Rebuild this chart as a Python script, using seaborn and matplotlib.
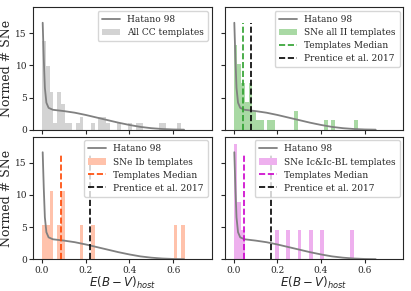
import numpy as np
import pandas as pd
import seaborn as sns
import matplotlib
matplotlib.use('Agg')
import matplotlib.pyplot as plt

# Hatano 98 model curve
hatano_ebv = [0.003, 0.008, 0.013, 0.02, 0.03, 0.05, 0.1, 0.15, 0.2, 0.25, 0.3,
              0.35, 0.4, 0.45, 0.5, 0.55, 0.6, 0.65]
hatano_pdf = [16.6, 11.0, 6.5, 4.2, 3.4, 3.1, 2.9, 2.65, 2.3, 1.9, 1.5,
              1.1, 0.75, 0.45, 0.25, 0.12, 0.05, 0.02]

# common histogram bins
bin_width = 0.0172
n_bins = 40
bin_centers = (np.arange(n_bins) + 0.5) * bin_width

# template counts per bin
counts_cc = [14, 10, 6, 1, 6, 4, 1, 1, 0, 1, 2, 0, 0, 1, 0, 2, 2, 1, 0, 0,
             1, 0, 0, 1, 0, 1, 1, 0, 0, 0, 0, 1, 1, 0, 0, 0, 1, 0, 0, 0]
counts_ii = [9, 7, 5, 3, 5, 2, 1, 1, 0, 1, 1, 0, 0, 0, 0, 0, 2, 0, 0, 0,
             0, 0, 0, 0, 1, 0, 1, 0, 0, 0, 0, 0, 1, 0, 0, 0, 0, 0, 0, 0]
counts_ib = [1, 1, 2, 0, 1, 2, 0, 0, 0, 0, 1, 0, 0, 1, 0, 0, 0, 0, 0, 0,
             0, 0, 0, 0, 0, 0, 0, 0, 0, 0, 0, 0, 0, 0, 0, 1, 0, 1, 0, 0]
counts_ic = [4, 2, 1, 0, 0, 0, 0, 0, 0, 0, 0, 1, 0, 0, 1, 0, 0, 1, 0, 0,
             1, 0, 0, 1, 0, 0, 0, 0, 0, 0, 0, 1, 0, 0, 0, 0, 0, 0, 0, 0]

# medians and Prentice et al. 2017 values
median_ii, prentice_ii = 0.044, 0.079
median_ib, prentice_ib = 0.087, 0.221
median_ic, prentice_ic = 0.046, 0.171
vline_top = 16.5

panels = [
    (counts_cc, 'All CC templates', '#d3d3d3', None, None, None),
    (counts_ii, 'SNe all II templates', '#a9d9a4', '#2ca02c', median_ii, prentice_ii),
    (counts_ib, 'SNe Ib templates', '#ffc2ab', '#ff4500', median_ib, prentice_ib),
    (counts_ic, 'SNe Ic&Ic-BL templates', '#eeb0ee', '#cc00cc', median_ic, prentice_ic),
]

sns.set_style('ticks')
plt.rcParams['font.family'] = ['DejaVu Serif']
plt.rcParams['mathtext.fontset'] = 'dejavusans'

fig, axes = plt.subplots(2, 2, figsize=(4.11, 2.91), dpi=100, sharex=True, sharey=True)
fig.subplots_adjust(left=0.081, right=0.981, top=0.975, bottom=0.109, wspace=0.075, hspace=0.057)

hatano = pd.DataFrame({'ebv': hatano_ebv, 'pdf': hatano_pdf})

for ax, (counts, label, color, mcolor, med, pren) in zip(axes.flat, panels):
    sns.lineplot(data=hatano, x='ebv', y='pdf', color='grey', lw=1.3, ax=ax,
                 label='Hatano 98', zorder=3)
    hist = pd.DataFrame({'ebv': bin_centers, 'n': counts})
    sns.histplot(data=hist, x='ebv', weights='n', binwidth=bin_width,
                 binrange=(0, n_bins * bin_width), stat='density',
                 color=color, alpha=1, edgecolor='none', linewidth=0, ax=ax, label=label)
    if med is not None:
        ax.vlines(med, 0, vline_top, colors=mcolor, linestyles='--', lw=1.2,
                  label='Templates Median', zorder=4)
        ax.vlines(pren, 0, vline_top, colors='k', linestyles='--', lw=1.2,
                  label='Prentice et al. 2017', zorder=4)
    handles, labels = ax.get_legend_handles_labels()
    order = [labels.index('Hatano 98'), labels.index(label)]
    order += [i for i, l in enumerate(labels) if i not in order]
    ax.legend([handles[i] for i in order], [labels[i] for i in order],
              loc='upper right', fontsize=6.5, handlelength=2.0, borderpad=0.45,
              labelspacing=0.45, borderaxespad=0.4)
    ax.set_xlim(-0.04, 0.776)
    ax.set_ylim(0, 19)
    ax.set_xticks([0.0, 0.2, 0.4, 0.6])
    ax.set_yticks([0, 5, 10, 15])
    ax.tick_params(labelsize=6.5, length=3, width=0.8, pad=1.5)
    ax.set_xlabel('')
    ax.set_ylabel('')

for ax in axes[:, 0]:
    ax.set_ylabel('Normed # SNe', fontsize=9, labelpad=2)
for ax in axes[1, :]:
    ax.set_xlabel(r'$E(B-V)_{host}$', fontsize=8.5, labelpad=0)

fig.savefig('out.png', dpi=100)
